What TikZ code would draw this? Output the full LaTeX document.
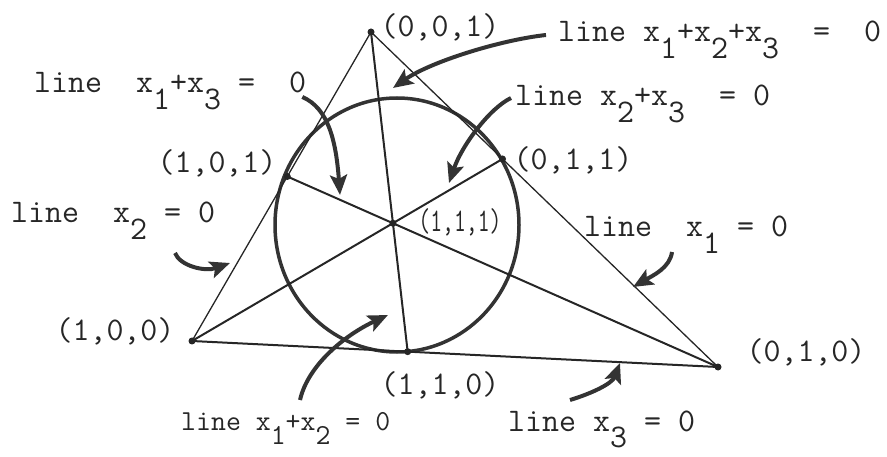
\documentclass[tikz,border=0pt]{standalone}
\usepackage{fontspec}
\usepackage{graphicx}
\usetikzlibrary{arrows.meta,calc}
\newcommand\lowr[1]{\raisebox{-0.5em}{#1}}
\tikzset{
    lbl/.style={font=\ttfamily\fontsize{33}{36}\selectfont, inner sep=0pt, text=black!85},
    side/.style={line width=1.3pt, draw=black!85},
    cev/.style={line width=2pt, draw=black!85},
    ring/.style={line width=3.5pt, draw=black!80},
    arr/.style={line width=4pt, draw=black!80, -{Stealth[length=20pt,width=17pt,inset=4pt]}}
}
\begin{document}
\begin{tikzpicture}[x=1pt,y=-1pt]
    \useasboundingbox (0,0) rectangle (887,457);
    % points of the plane
    \coordinate (P001) at (371,32);
    \coordinate (P100) at (192,341);
    \coordinate (P010) at (718,367);
    \coordinate (P011) at ($(P001)!0.379!(P010)$);
    \coordinate (P110) at ($(P100)!0.41!(P010)$);
    \coordinate (P111) at (intersection of P001--P110 and P100--P011);
    \coordinate (P101) at (intersection of P010--P111 and P001--P100);

    \draw[ring] (397,225) ellipse[x radius=122, y radius=127];
    \draw[side] (P001) -- (P100);
    \draw[side] (P001) -- (P010);
    \draw[cev] (P100) -- (P010);
    \draw[cev] (P001) -- (P110);
    \draw[cev] (P100) -- (P011);
    \draw[cev] (P010) -- (P101);
    \foreach \p in {P001,P100,P010,P011,P110,P101,P111} {
        \fill[black!85] (\p) circle[radius=3.5pt];
    }

    % point labels
    \node[lbl] (N001) at (440,27) {(0,0,1)};
    \node[lbl] (N101) at (217,163) {(1,0,1)};
    \node[lbl] (N011) at (573,160) {(0,1,1)};
    \node[lbl] (N111) at (460,222) {\scalebox{0.7}[1]{(1,1,1)}};
    \node[lbl] (N100) at (115,331) {(1,0,0)};
    \node[lbl] (N010) at (806,352) {(0,1,0)};
    \node[lbl] (N110) at (440,385) {(1,1,0)};

    % line labels
    \node[lbl, anchor=base west] (L123) at (558,42) {line x\lowr{1}+x\lowr{2}+x\lowr{3}~~=~~0};
    \node[lbl, anchor=base west] (L13) at (34,93) {line~~x\lowr{1}+x\lowr{3} =~~0};
    \node[lbl, anchor=base west] (L23) at (515,106) {line x\lowr{2}+x\lowr{3}~~=~0};
    \node[lbl, anchor=base west] (L2) at (11,223) {line~~x\lowr{2} = 0};
    \node[lbl, anchor=base west] (L1) at (584,237) {line~~x\lowr{1} = 0};
    \node[lbl, anchor=base west, font=\ttfamily\fontsize{29}{32}\selectfont] (L12) at (181,430) {line x\lowr{1}+x\lowr{2} = 0};
    \node[lbl, anchor=base west] (L3) at (508,431) {line x\lowr{3} = 0};

    % arrow tips
    \coordinate (t123) at (393,88);
    \coordinate (t13) at (340,195);
    \coordinate (t23) at (449,183);
    \coordinate (t2) at (230,263);
    \coordinate (t1) at (633,287);
    \coordinate (t12) at (388,315);
    \coordinate (t3) at (620,363);

    \draw[arr] ([shift={(-12,-7)}]L123.base west) .. controls (500,40) and (430,62) .. (t123);
    \draw[arr] ([shift={(-4,4)}]L13.base east) .. controls (328,108) and (336,140) .. (t13);
    \draw[arr] ([shift={(-4,-8)}]L23.base west) .. controls (490,108) and (462,145) .. (t23);
    \draw[arr] ([shift={(164,30)}]L2.base west) .. controls (180,266) and (205,272) .. (t2);
    \draw[arr] ([shift={(88,15)}]L1.base west) .. controls (670,268) and (652,276) .. (t1);
    \draw[arr] ([shift={(119,-30)}]L12.base west) .. controls (308,365) and (345,335) .. (t12);
    \draw[arr] ([shift={(62,-31)}]L3.base west) .. controls (590,394) and (612,384) .. (t3);
\end{tikzpicture}
\end{document}
